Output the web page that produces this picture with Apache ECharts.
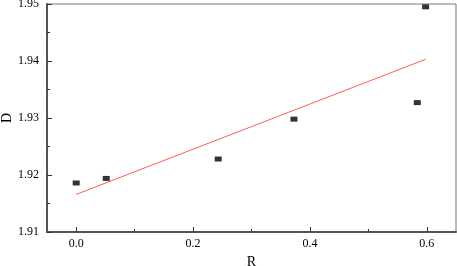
<!DOCTYPE html>
<html>
<head>
<meta charset="utf-8">
<script src="https://cdn.jsdelivr.net/npm/echarts@6/dist/echarts.min.js"></script>
<style>
  html, body { margin: 0; padding: 0; background: #fff; }
  #chart { width: 457px; height: 266px; }
</style>
</head>
<body>
<div id="chart"></div>
<script>
// measured points
var rValues = [0.0, 0.0514, 0.243, 0.3727, 0.5837, 0.598];
var dValues = [1.9186, 1.9194, 1.9228, 1.9298, 1.9327, 1.9495];
// fitted line end points
var fitR = [0.0, 0.598];
var fitD = [1.9166, 1.9403];
var xMajorTicks = [0.0, 0.2, 0.4, 0.6];
var xMinorTicks = [0.1, 0.3, 0.5];

var font = 'Liberation Serif, Times New Roman, serif';
var axisColor = '#555';

var chart = echarts.init(document.getElementById('chart'));

var option = {
    backgroundColor: '#fff',
    animation: false,
    grid: {
        left: 47, right: 1, top: 4, bottom: 34,
        containLabel: false, outerBoundsMode: 'none',
        show: true, borderColor: '#777', borderWidth: 1
    },
    xAxis: [
        {
            type: 'value', min: -0.05, max: 0.65,
            name: 'R', nameLocation: 'middle', nameGap: 22,
            nameTextStyle: { fontFamily: font, fontSize: 14, color: '#000' },
            axisLine: { show: true, onZero: false, lineStyle: { color: axisColor, width: 2 } },
            axisTick: { show: true, inside: true, length: 5, customValues: xMajorTicks, lineStyle: { color: '#333' } },
            axisLabel: { customValues: xMajorTicks, fontFamily: font, fontSize: 12, color: '#000', margin: 6,
                formatter: function (v) { return v.toFixed(1); } },
            splitLine: { show: false }
        },
        {
            type: 'value', min: -0.05, max: 0.65, position: 'bottom',
            axisLine: { show: false, onZero: false },
            axisTick: { show: true, inside: true, length: 3, customValues: xMinorTicks, lineStyle: { color: '#333' } },
            axisLabel: { show: false },
            splitLine: { show: false }
        }
    ],
    yAxis: {
        type: 'value', min: 1.91, max: 1.95, interval: 0.01,
        name: 'D', nameLocation: 'middle', nameGap: 33, nameRotate: 90,
        nameMoveOverlap: false,
        nameTextStyle: { fontFamily: font, fontSize: 14, color: '#000' },
        axisLine: { show: true, onZero: false, lineStyle: { color: axisColor, width: 2 } },
        axisTick: { show: true, inside: true, length: 5, lineStyle: { color: '#333' } },
        minorTick: { show: true, splitNumber: 2, length: 3, lineStyle: { color: '#333' } },
        axisLabel: { fontFamily: font, fontSize: 12, color: '#000', margin: 8,
            formatter: function (v) { return v.toFixed(2); } },
        splitLine: { show: false }
    },
    series: [
        {
            name: 'fit', type: 'line', xAxisIndex: 0,
            data: fitR.map(function (r, i) { return [r, fitD[i]]; }),
            symbol: 'none', silent: true,
            lineStyle: { color: '#ff5c5c', width: 1 }
        },
        {
            name: 'D', type: 'scatter', xAxisIndex: 0,
            data: rValues.map(function (r, i) { return [r, dValues[i]]; }),
            symbol: 'rect', symbolSize: [7, 5],
            itemStyle: { color: '#000' }
        }
    ]
};

chart.setOption(option);
</script>
</body>
</html>
